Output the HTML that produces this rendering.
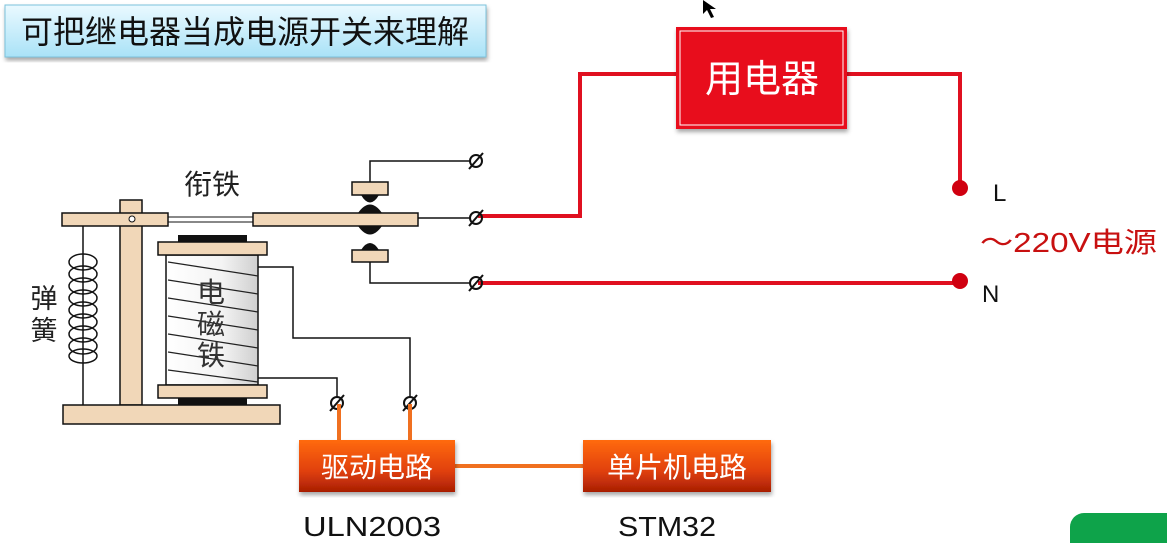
<!DOCTYPE html>
<html><head><meta charset="utf-8"><style>
body{margin:0;width:1167px;height:543px;overflow:hidden;background:#fff}
svg text{font-family:"Liberation Sans","Noto Sans CJK SC",sans-serif}
</style></head><body>
<svg width="1167" height="543" viewBox="0 0 1167 543" xmlns="http://www.w3.org/2000/svg">
<defs>
<linearGradient id="tb" x1="0" y1="0" x2="0" y2="1"><stop offset="0" stop-color="#eaf9ff"/><stop offset="1" stop-color="#a9e2f7"/></linearGradient>
<linearGradient id="og" x1="0" y1="0" x2="0" y2="1"><stop offset="0" stop-color="#ff6a10"/><stop offset="0.6" stop-color="#e0400a"/><stop offset="1" stop-color="#a81e05"/></linearGradient>
<linearGradient id="cg" x1="0" y1="0" x2="1" y2="0"><stop offset="0" stop-color="#fff"/><stop offset="0.6" stop-color="#f4f4f4"/><stop offset="1" stop-color="#cfcfcf"/></linearGradient>
<filter id="sh"><feDropShadow dx="1" dy="3" stdDeviation="2" flood-opacity="0.35"/></filter>
</defs>
<rect x="5" y="5" width="481" height="52" fill="url(#tb)" stroke="#7cc3dc" filter="url(#sh)"/>
<text x="245" y="43" font-size="32" text-anchor="middle" fill="#111">可把继电器当成电源开关来理解</text>
<path d="M703 0 L703 14 L707 10 L711 18 L714 17 L710 9 L716 9 Z" fill="#000"/>
<g stroke="#e01020" stroke-width="4" fill="none">
<polyline points="478,216 580,216 580,74 680,74"/>
<polyline points="846,74 960,74 960,188"/>
<line x1="478" y1="283" x2="960" y2="283"/>
</g>
<circle cx="960" cy="188" r="8" fill="#d00010"/>
<circle cx="960" cy="281" r="8" fill="#d00010"/>
<rect x="676" y="27" width="171" height="102" fill="#e8101c" filter="url(#sh)"/>
<rect x="680" y="31" width="163" height="94" fill="none" stroke="#fff" stroke-width="1"/>
<text x="762" y="92" font-size="38" text-anchor="middle" fill="#fff">用电器</text>
<text x="993" y="201" font-size="24" fill="#111">L</text>
<text x="982" y="302" font-size="24" fill="#111">N</text>
<text x="980" y="252" font-size="28" fill="#c81010" textLength="177" lengthAdjust="spacingAndGlyphs">～220V电源</text>
<line x1="83" y1="226" x2="83" y2="405" stroke="#111" stroke-width="1.5"/>
<g fill="none" stroke="#111" stroke-width="1.5">
<ellipse cx="83" cy="262" rx="14" ry="8"/><ellipse cx="83" cy="274" rx="14" ry="8"/><ellipse cx="83" cy="286" rx="14" ry="8"/><ellipse cx="83" cy="298" rx="14" ry="8"/><ellipse cx="83" cy="310" rx="14" ry="8"/><ellipse cx="83" cy="322" rx="14" ry="8"/><ellipse cx="83" cy="334" rx="14" ry="8"/><ellipse cx="83" cy="346" rx="14" ry="8"/><ellipse cx="83" cy="356" rx="14" ry="7"/>
</g>
<g fill="#f1d7b8" stroke="#111" stroke-width="1.5">
<rect x="120" y="200" width="22" height="205"/>
<rect x="62" y="213" width="106" height="13"/>
<rect x="63" y="405" width="217" height="19"/>
<rect x="253" y="213" width="165" height="13"/>
</g>
<line x1="168" y1="217" x2="253" y2="217" stroke="#111"/><line x1="168" y1="222" x2="253" y2="222" stroke="#111"/>
<circle cx="132" cy="219" r="3" fill="#fff" stroke="#111"/>
<rect x="178" y="235" width="69" height="8" fill="#111"/>
<rect x="178" y="397" width="69" height="8" fill="#111"/>
<rect x="166" y="255" width="92" height="130" fill="url(#cg)" stroke="#111" stroke-width="1.5"/>
<g stroke="#222" stroke-width="1.2">
<line x1="168" y1="262" x2="258" y2="276"/><line x1="168" y1="280" x2="258" y2="294"/><line x1="168" y1="298" x2="258" y2="312"/><line x1="168" y1="316" x2="258" y2="330"/><line x1="168" y1="334" x2="258" y2="348"/><line x1="168" y1="352" x2="258" y2="366"/><line x1="168" y1="370" x2="258" y2="382"/>
</g>
<g fill="#f1d7b8" stroke="#111" stroke-width="1.5">
<rect x="158" y="242" width="109" height="13"/>
<rect x="158" y="385" width="109" height="13"/>
</g>
<text x="212" y="194" font-size="28" text-anchor="middle" fill="#222">衔铁</text>
<text x="44" y="308" font-size="27" text-anchor="middle" fill="#222">弹</text>
<text x="44" y="340" font-size="27" text-anchor="middle" fill="#222">簧</text>
<text x="211" y="302" font-size="28" text-anchor="middle" fill="#333">电</text>
<text x="211" y="334" font-size="28" text-anchor="middle" fill="#333">磁</text>
<text x="211" y="365" font-size="28" text-anchor="middle" fill="#333">铁</text>
<g fill="none" stroke="#111" stroke-width="1.5">
<polyline points="258,267 293,267 293,338 410,338 410,397"/>
<polyline points="258,378 337,378 337,397"/>
<polyline points="370,182 370,161 470,161"/>
<polyline points="370,262 370,283 470,283"/>
<line x1="418" y1="218" x2="470" y2="218"/>
</g>
<path d="M361 195 Q370 210 379 195 Z M358 213 Q370 196 382 213 Z" fill="#111"/>
<path d="M358 226 Q370 243 382 226 Z M361 250 Q370 236 379 250 Z" fill="#111"/>
<g fill="#f1d7b8" stroke="#111" stroke-width="1.5">
<rect x="352" y="182" width="36" height="13"/>
<rect x="352" y="250" width="36" height="12"/>
</g>
<g fill="none" stroke="#111" stroke-width="2">
<circle cx="476" cy="161" r="6"/><line x1="469" y1="169" x2="483" y2="153"/>
<circle cx="476" cy="218" r="6"/><line x1="469" y1="226" x2="483" y2="210"/>
<circle cx="476" cy="283" r="6"/><line x1="469" y1="291" x2="483" y2="275"/>
<circle cx="337" cy="403" r="6"/><line x1="330" y1="411" x2="344" y2="395"/>
<circle cx="410" cy="403" r="6"/><line x1="403" y1="411" x2="417" y2="395"/>
</g>
<g stroke="#f07020" stroke-width="4">
<line x1="339" y1="404" x2="339" y2="441"/><line x1="410" y1="404" x2="410" y2="441"/>
<line x1="455" y1="466" x2="583" y2="466"/>
</g>
<rect x="299" y="440" width="156" height="52" fill="url(#og)" filter="url(#sh)"/>
<rect x="583" y="440" width="188" height="52" fill="url(#og)" filter="url(#sh)"/>
<text x="377" y="477" font-size="28" text-anchor="middle" fill="#fff">驱动电路</text>
<text x="677" y="477" font-size="28" text-anchor="middle" fill="#fff">单片机电路</text>
<text x="303" y="536" font-size="28" fill="#111" textLength="138" lengthAdjust="spacingAndGlyphs">ULN2003</text>
<text x="618" y="536" font-size="28" fill="#111" textLength="98" lengthAdjust="spacingAndGlyphs">STM32</text>
<rect x="1070" y="513" width="120" height="60" rx="14" fill="#0ea34a"/>
</svg>
</body></html>
